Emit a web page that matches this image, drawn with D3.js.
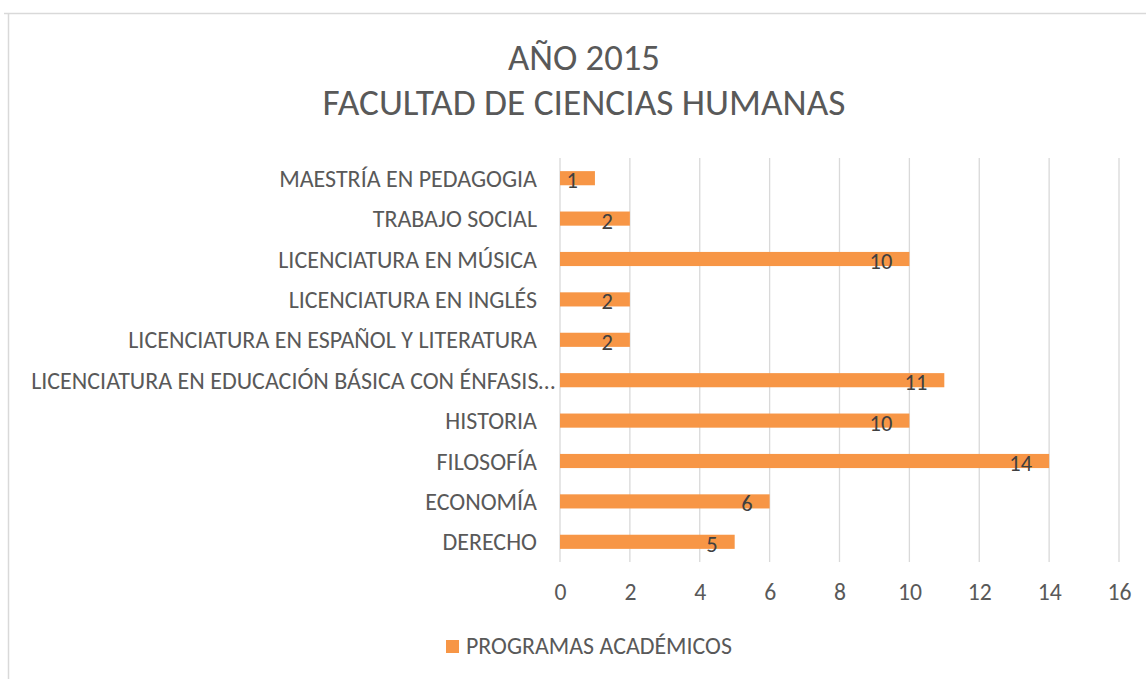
<!DOCTYPE html>
<html><head><meta charset="utf-8">
<script src="https://cdn.jsdelivr.net/npm/d3@7"></script>
<style>
html,body{margin:0;padding:0;background:#fff;}
svg{display:block;}
text{font-family:"Carlito","Open Sans",sans-serif;}
</style></head>
<body>
<script>
const titleLines = ["AÑO 2015", "FACULTAD DE CIENCIAS HUMANAS"];
const categories = ["MAESTRÍA EN PEDAGOGIA","TRABAJO SOCIAL","LICENCIATURA EN MÚSICA","LICENCIATURA EN INGLÉS","LICENCIATURA EN ESPAÑOL Y LITERATURA","LICENCIATURA EN EDUCACIÓN BÁSICA CON ÉNFASIS…","HISTORIA","FILOSOFÍA","ECONOMÍA","DERECHO"];
const values = [1,2,10,2,2,11,10,14,6,5];
const xTicks = [0,2,4,6,8,10,12,14,16];
const seriesName = "PROGRAMAS ACADÉMICOS";

const W = 1146, H = 679;
const svg = d3.select("body").append("svg").attr("width", W).attr("height", H);

// chart border
svg.append("path").attr("d", `M4,13.5H${W}M8.5,13.5V${H}`).attr("fill","none").attr("stroke","#d9d9d9").attr("stroke-width",1.5);

function fit(sel, target, base){
  sel.attr("font-size", base);
  const w = sel.node().getComputedTextLength();
  const s = base * target / w;
  sel.attr("font-size", s);
  return s;
}

const grey = "#595959";
const ff = '"Carlito","Open Sans",sans-serif';
const t1 = svg.append("text").attr("x",584).attr("y",70).attr("text-anchor","middle").attr("fill",grey).text(titleLines[0]);
fit(t1,152,30);
const t2 = svg.append("text").attr("x",584).attr("y",115).attr("text-anchor","middle").attr("fill",grey).text(titleLines[1]);
fit(t2,523,30);

const x = d3.scaleLinear().domain([0,16]).range([560,1119]);
const y = d3.scaleBand().domain(categories).range([158,562]).paddingInner(0.65).paddingOuter(0.325);

// gridlines
svg.append("g").selectAll("line").data(xTicks).join("line")
  .attr("x1",d=>x(d)).attr("x2",d=>x(d)).attr("y1",158).attr("y2",562)
  .attr("stroke","#d9d9d9").attr("stroke-width",1.3);

// x axis labels
const xAxis = svg.append("g").attr("transform","translate(0,600)")
  .call(d3.axisBottom(x).tickValues(xTicks).tickSize(0).tickPadding(0));
xAxis.select(".domain").remove();
const tickProbe = xAxis.selectAll("text").filter(d=>d===16).attr("font-family",ff);
const tfs = fit(tickProbe,24,20);
xAxis.selectAll("text").attr("fill",grey).attr("font-size",tfs).attr("dy",0).attr("font-family",ff);

// category labels
const yAxis = svg.append("g").attr("transform","translate(537,0)")
  .call(d3.axisLeft(y).tickSize(0).tickPadding(0));
yAxis.select(".domain").remove();
const probe = yAxis.selectAll("text").filter(d=>d===categories[0]).attr("font-family",ff);
const fs = fit(probe,258,18);
yAxis.selectAll("text").attr("fill",grey).attr("font-size",fs).attr("dy","0.36em").attr("font-family",ff)
  .attr("x",d=>d.endsWith("…") ? 18 : 0);

// bars
svg.append("g").selectAll("rect").data(values).join("rect")
  .attr("x",x(0)).attr("y",(d,i)=>y(categories[i]))
  .attr("width",d=>x(d)-x(0)).attr("height",y.bandwidth())
  .attr("fill","#f79646");

// data labels
svg.append("g").selectAll("text").data(values).join("text")
  .attr("x",d=>x(d)-17).attr("y",(d,i)=>y(categories[i])+y.bandwidth()/2+2)
  .attr("dy","0.36em").attr("text-anchor","end").attr("fill","#404040").attr("font-size",tfs*0.95)
  .text(d=>d);

// legend
svg.append("rect").attr("x",446).attr("y",640).attr("width",13).attr("height",13).attr("fill","#f79646");
const lg = svg.append("text").attr("x",466).attr("y",654).attr("fill",grey).text(seriesName);
fit(lg,266,18);
</script>
</body></html>
